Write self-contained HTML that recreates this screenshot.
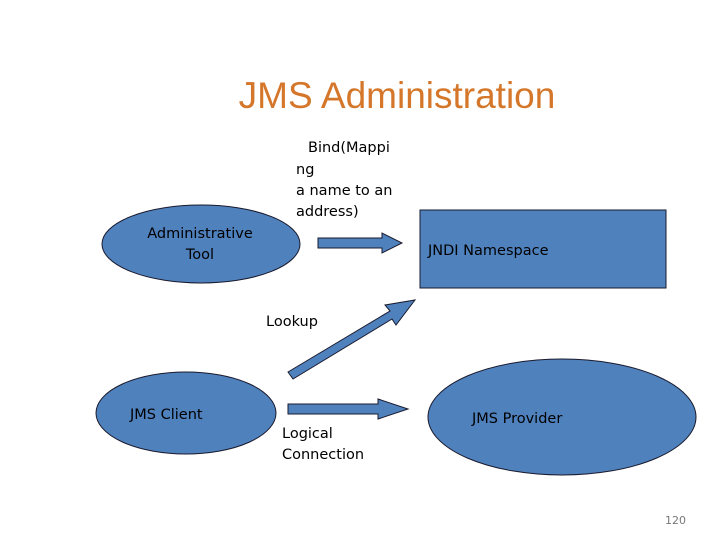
<!DOCTYPE html>
<html><head><meta charset="utf-8"><style>
body{margin:0;width:720px;height:540px;background:#fff;overflow:hidden}
svg text{font-family:"DejaVu Sans","Liberation Sans",sans-serif}
</style></head><body>
<svg width="720" height="540" viewBox="0 0 720 540">
<text x="397" y="108" text-anchor="middle" font-size="37" fill="#D5772A" style="font-family:'Liberation Sans',sans-serif">JMS Administration</text>
<g font-size="14.5" fill="#000">
<text x="308" y="152">Bind(Mappi</text>
<text x="296" y="174">ng</text>
<text x="296" y="195">a name to an</text>
<text x="296" y="216">address)</text>
</g>
<g fill="#4F81BD" stroke="#1a1a2e" stroke-width="1">
<ellipse cx="201" cy="244" rx="99" ry="39"/>
<rect x="420" y="210" width="246" height="78"/>
<ellipse cx="186" cy="413" rx="90" ry="41"/>
<ellipse cx="562" cy="417" rx="134" ry="58"/>
<polygon points="318,238 382,238 382,233 402,243 382,253 382,248 318,248"/>
<polygon points="288,404 378,404 378,399 408,409 378,419 378,414 288,414"/>
<polygon points="288,372 390,311 385,305 415,300 396,325 392,319 293,379"/>
</g>
<g font-size="14.5" fill="#000">
<text x="200" y="238" text-anchor="middle">Administrative</text>
<text x="200" y="259" text-anchor="middle">Tool</text>
<text x="428" y="255">JNDI Namespace</text>
<text x="266" y="326">Lookup</text>
<text x="130" y="419">JMS Client</text>
<text x="472" y="423">JMS Provider</text>
<text x="282" y="438">Logical</text>
<text x="282" y="459">Connection</text>
</g>
<text x="665" y="524" font-size="11" fill="#777">120</text>
</svg>
</body></html>
